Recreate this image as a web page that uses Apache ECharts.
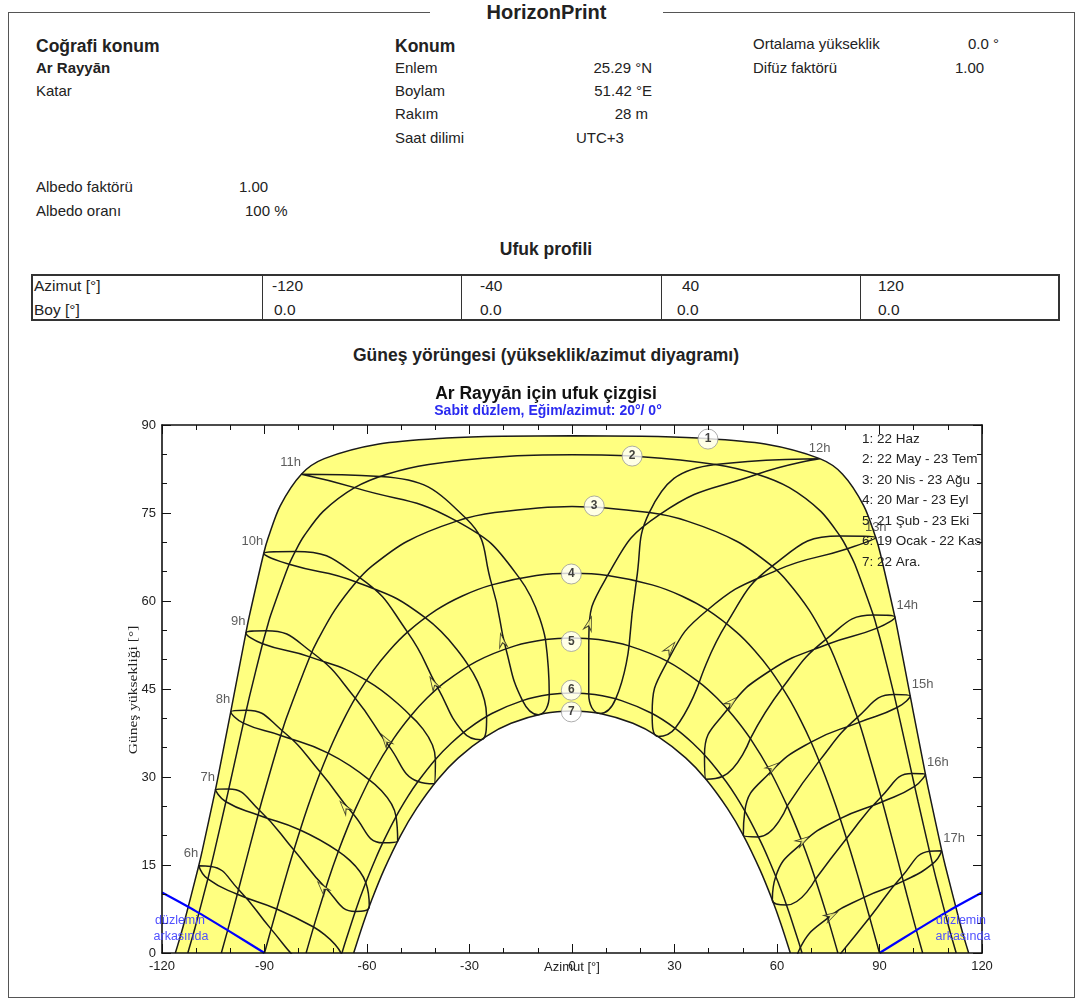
<!DOCTYPE html>
<html>
<head>
<meta charset="utf-8">
<title>HorizonPrint</title>
<script src="https://cdn.jsdelivr.net/npm/echarts@6/dist/echarts.min.js"></script>
<style>
  body { margin: 0; background: #fff; }
  #page { position: relative; width: 1083px; height: 1001px; overflow: hidden;
          font-family: 'Liberation Sans', Arial, sans-serif; color: #222; }
  .t { position: absolute; white-space: nowrap; font-size: 15px; line-height: 18px; }
  .h { font-weight: bold; font-size: 17.5px; line-height: 20px; }
  .b { font-weight: bold; }
  .n { font-size: 15.5px; }
  #frame { position: absolute; left: 8px; top: 12px; width: 1067px; height: 986px;
           border: 1.5px solid #555; box-sizing: border-box; }
  #tbl { position: absolute; left: 31px; top: 274px; width: 1029px; height: 47px;
         border: 2px solid #333; box-sizing: border-box; }
  .vl { position: absolute; top: 0; width: 1px; height: 100%; background: #333; }
  #chart { position: absolute; left: 0; top: 0; width: 1083px; height: 1001px; }
</style>
</head>
<body>
<div id="page">
  <div id="frame"></div>
  <div class="t b" style="left:430px;top:0px;width:233px;text-align:center;font-size:20px;line-height:24px;background:#fff">HorizonPrint</div>

  <div class="t h" style="left:36px;top:36px">Coğrafi konum</div>
  <div class="t b" style="left:36px;top:59px">Ar Rayyān</div>
  <div class="t" style="left:36px;top:82px">Katar</div>

  <div class="t h" style="left:395px;top:36px">Konum</div>
  <div class="t" style="left:395px;top:59px">Enlem</div>
  <div class="t" style="left:395px;top:82px">Boylam</div>
  <div class="t" style="left:395px;top:105px">Rakım</div>
  <div class="t" style="left:395px;top:129px">Saat dilimi</div>
  <div class="t" style="right:431px;top:59px">25.29 °N</div>
  <div class="t" style="right:431px;top:82px">51.42 °E</div>
  <div class="t" style="right:435px;top:105px">28 m</div>
  <div class="t" style="left:576px;top:129px">UTC+3</div>

  <div class="t" style="left:753px;top:35px">Ortalama yükseklik</div>
  <div class="t" style="right:84px;top:35px">0.0 °</div>
  <div class="t" style="left:753px;top:59px">Difüz faktörü</div>
  <div class="t" style="left:955px;top:59px">1.00</div>

  <div class="t" style="left:36px;top:178px">Albedo faktörü</div>
  <div class="t" style="left:239px;top:178px">1.00</div>
  <div class="t" style="left:36px;top:202px">Albedo oranı</div>
  <div class="t" style="left:245px;top:202px">100 %</div>

  <div class="t h" style="left:396px;top:239px;width:300px;text-align:center">Ufuk profili</div>

  <div id="tbl">
    <div class="vl" style="left:229px"></div>
    <div class="vl" style="left:428px"></div>
    <div class="vl" style="left:628px"></div>
    <div class="vl" style="left:827px"></div>
  </div>
  <div class="t n" style="left:34px;top:277px">Azimut [°]</div>
  <div class="t n" style="left:34px;top:301px">Boy [°]</div>
  <div class="t n" style="left:272px;top:277px">-120</div>
  <div class="t n" style="left:274px;top:301px">0.0</div>
  <div class="t n" style="left:480px;top:277px">-40</div>
  <div class="t n" style="left:480px;top:301px">0.0</div>
  <div class="t n" style="left:682px;top:277px">40</div>
  <div class="t n" style="left:677px;top:301px">0.0</div>
  <div class="t n" style="left:878px;top:277px">120</div>
  <div class="t n" style="left:878px;top:301px">0.0</div>

  <div class="t h" style="left:246px;top:345px;width:600px;text-align:center">Güneş yörüngesi (yükseklik/azimut diyagramı)</div>

  <div id="chart"></div>
</div>

<script>
// sun paths, [azimut, yükseklik] in degrees
const dateCurve1 = [[-116.1,0],[-114.9,2.3],[-113.7,4.77],[-109.25,14.87],[-108.22,17.44],[-104.35,27.85],[-103.44,30.49],[-99.88,41.11],[-99.0,43.79],[-95.45,54.54],[-94.51,57.25],[-90.24,68.09],[-88.9,70.81],[-85.4,76.23],[-79.2,81.62],[-72.5,84.26],[-56.5,86.75],[-36.8,87.78],[-20.4,88.1],[0,88.15],[20.4,88.1],[36.8,87.78],[56.5,86.75],[72.5,84.26],[79.2,81.62],[85.4,76.23],[88.9,70.81],[90.24,68.09],[94.51,57.25],[95.45,54.54],[99.0,43.79],[99.88,41.11],[103.44,30.49],[104.35,27.85],[108.22,17.44],[109.25,14.87],[113.7,4.77],[114.9,2.3],[116.1,0]];
const dateCurve2 = [[-112.45,0],[-111.29,2.32],[-110.29,4.39],[-106.59,12.62],[-105.51,15.19],[-104.64,17.33],[-101.3,25.78],[-100.29,28.4],[-99.46,30.58],[-96.18,39.18],[-95.14,41.84],[-94.26,44.05],[-90.57,52.72],[-89.3,55.38],[-88.18,57.6],[-82.79,66.25],[-80.6,68.9],[-78.44,71.07],[-72.83,75.27],[-63.63,79.32],[-54.18,81.61],[-41.97,83.27],[-20.3,84.6],[0,84.91],[20.3,84.6],[41.97,83.27],[54.18,81.61],[63.63,79.32],[72.83,75.27],[78.44,71.07],[80.6,68.9],[82.79,66.25],[88.18,57.6],[89.3,55.38],[90.57,52.72],[94.26,44.05],[95.14,41.84],[96.18,39.18],[99.46,30.58],[100.29,28.4],[101.3,25.78],[104.64,17.33],[105.51,15.19],[106.59,12.62],[110.29,4.39],[111.29,2.32],[112.45,0]];
const dateCurve3 = [[-102.63,0],[-100.33,4.84],[-97.96,10.02],[-96.59,13.07],[-91.88,23.53],[-90.45,26.6],[-85.24,37.08],[-83.54,40.16],[-76.76,50.47],[-74.32,53.45],[-69.43,58.44],[-63.17,63.24],[-58.57,65.93],[-48.33,70.14],[-33.74,73.61],[-22.61,75.07],[0,76.11],[22.61,75.07],[33.74,73.61],[48.33,70.14],[58.57,65.93],[63.17,63.24],[69.43,58.44],[74.32,53.45],[76.76,50.47],[83.54,40.16],[85.24,37.08],[90.45,26.6],[91.88,23.53],[96.59,13.07],[97.96,10.02],[100.33,4.84],[102.63,0]];
const dateCurve4 = [[-90,0],[-88.07,4.07],[-85.47,9.48],[-83.47,13.53],[-81.4,17.57],[-78.48,22.91],[-76.15,26.88],[-73.64,30.81],[-69.96,35.96],[-66.87,39.74],[-63.43,43.44],[-58.14,48.17],[-53.5,51.54],[-48.15,54.7],[-39.66,58.47],[-32.1,60.86],[-23.45,62.75],[-10.44,64.35],[0,64.71],[10.44,64.35],[23.45,62.75],[32.1,60.86],[39.66,58.47],[48.15,54.7],[53.5,51.54],[58.14,48.17],[63.43,43.44],[66.87,39.74],[69.96,35.96],[73.64,30.81],[76.15,26.88],[78.48,22.91],[81.4,17.57],[83.47,13.53],[85.47,9.48],[88.07,4.07],[90,0]];
const dateCurve5 = [[-77.82,0],[-74.85,5.94],[-71.24,12.57],[-68.38,17.33],[-65.79,21.24],[-62.99,25.07],[-58.13,30.85],[-52.21,36.54],[-47.21,40.41],[-42.5,43.41],[-37.25,46.13],[-27.93,49.71],[-16.7,52.35],[-7.76,53.43],[0,53.71],[7.76,53.43],[16.7,52.35],[27.93,49.71],[37.25,46.13],[42.5,43.41],[47.21,40.41],[52.21,36.54],[58.13,30.85],[62.99,25.07],[65.79,21.24],[68.38,17.33],[71.24,12.57],[74.85,5.94],[77.82,0]];
const dateCurve6 = [[-67.32,0],[-66.84,0.94],[-63.43,7.09],[-60.36,12.0],[-57.58,15.95],[-55.4,18.78],[-51.5,23.25],[-47.93,26.77],[-45.08,29.23],[-39.98,32.99],[-35.3,35.8],[-30.19,38.3],[-23.46,40.82],[-14.48,43.02],[-6.66,44.05],[0,44.31],[6.66,44.05],[14.48,43.02],[23.46,40.82],[30.19,38.3],[35.3,35.8],[39.98,32.99],[45.08,29.23],[47.93,26.77],[51.5,23.25],[55.4,18.78],[57.58,15.95],[60.36,12.0],[63.43,7.09],[66.84,0.94],[67.32,0]];
const dateCurve7 = [[-63.9,0],[-61.15,4.96],[-58.63,9.03],[-55.03,14.17],[-50.14,20.06],[-45.53,24.62],[-39.21,29.63],[-33.27,33.27],[-25.21,36.89],[-17.83,39.15],[-8.25,40.83],[0,41.27],[8.25,40.83],[17.83,39.15],[25.21,36.89],[33.27,33.27],[39.21,29.63],[45.53,24.62],[50.14,20.06],[55.03,14.17],[58.63,9.03],[61.15,4.96],[63.9,0]];

// hour loops: Eki, Kas, Ara, Ocak, Şub, Mar, Nis, May, Haz, Tem, Ağu, Eyl, Eki
const hour06 = [[-75.63,4.43],[-67.41,-0.18],[-65.97,-4.11],[-69.95,-5.36],[-78.79,-2.04],[-88.07,4.07],[-97.6,10.83],[-105.7,14.75],[-109.25,14.87],[-106.59,12.62],[-97.96,10.02],[-86.43,7.5],[-75.63,4.43]];
const hour07 = [[-68.38,17.33],[-60.36,12.0],[-59.33,7.94],[-63.43,7.09],[-72.08,11.09],[-81.4,17.57],[-91.5,24.34],[-100.46,27.96],[-104.35,27.85],[-101.3,25.78],[-91.88,23.53],[-79.58,20.96],[-68.38,17.33]];
const hour08 = [[-59.34,29.51],[-51.5,23.25],[-51.02,19.09],[-55.4,18.78],[-64.05,23.68],[-73.64,30.81],[-84.8,37.89],[-95.32,41.39],[-99.88,41.11],[-96.18,39.18],[-85.24,37.08],[-71.36,34.08],[-59.34,29.51]];
const hour09 = [[-47.21,40.41],[-39.98,32.99],[-40.34,28.83],[-45.08,29.23],[-53.63,35.3],[-63.43,43.44],[-76.14,51.26],[-89.52,54.93],[-95.45,54.54],[-90.57,52.72],[-76.76,50.47],[-60.18,46.47],[-47.21,40.41]];
const hour10 = [[-30.26,48.95],[-24.99,40.32],[-26.66,36.34],[-31.89,37.67],[-39.25,45.16],[-48.15,54.7],[-62.03,63.96],[-81.0,68.43],[-90.24,68.09],[-82.79,66.25],[-63.17,63.24],[-42.97,57.15],[-30.26,48.95]];
const hour11 = [[-7.76,53.43],[-6.66,44.05],[-9.93,40.63],[-14.48,43.02],[-19.35,51.87],[-23.45,62.75],[-30.98,74.05],[-56.1,81.24],[-79.2,81.62],[-63.63,79.32],[-33.74,73.61],[-15.37,63.9],[-7.76,53.43]];
const hour12 = [[16.7,52.35],[12.79,43.31],[8.25,40.83],[4.9,44.17],[4.92,53.6],[10.44,64.35],[25.74,74.76],[54.18,81.61],[72.5,84.26],[41.97,83.27],[22.61,75.07],[18.85,63.47],[16.7,52.35]];
const hour13 = [[37.25,46.13],[30.19,38.3],[25.21,36.89],[23.46,40.82],[27.93,49.71],[39.66,58.47],[59.87,65.23],[80.6,68.9],[88.9,70.81],[78.44,71.07],[58.57,65.93],[45.23,56.14],[37.25,46.13]];
const hour14 = [[52.21,36.54],[44.01,30.08],[39.21,29.63],[38.78,33.76],[45.54,41.54],[58.14,48.17],[74.99,52.66],[89.3,55.38],[94.51,57.25],[88.18,57.6],[74.32,53.45],[61.59,45.2],[52.21,36.54]];
const hour15 = [[62.99,25.07],[54.58,19.78],[50.14,20.06],[50.58,24.2],[58.13,30.85],[69.96,35.96],[84.01,39.32],[95.14,41.84],[99.0,43.79],[94.26,44.05],[83.54,40.16],[72.34,32.71],[62.99,25.07]];
const hour16 = [[71.24,12.57],[62.78,8.18],[58.63,9.03],[59.64,13.06],[67.45,18.78],[78.48,22.91],[90.83,25.79],[100.29,28.4],[103.44,30.49],[99.46,30.58],[90.45,26.6],[80.35,19.53],[71.24,12.57]];
const hour17 = [[78.06,-0.5],[69.41,-4.22],[65.41,-2.96],[66.84,0.94],[74.85,5.94],[85.47,9.48],[96.95,12.26],[105.51,15.19],[108.22,17.44],[104.64,17.33],[96.59,13.07],[87.13,6.06],[78.06,-0.5]];
const hourNames = ['6h','7h','8h','9h','10h','11h','12h','13h','14h','15h','16h','17h'];
const hourLoops = [hour06, hour07, hour08, hour09, hour10, hour11, hour12, hour13, hour14, hour15, hour16, hour17];
const JUN = 8, FEB = 4, MAR = 5;

// direction arrows (7h..17h)
const arrowPts = [[-73.1,11.2],[-66.6,24.9],[-54.6,36.3],[-40.6,46.0],[-20.5,53.3],[5.1,56.2],[28.8,52.0],[46.8,42.8],[58.9,31.7],[67.7,19.2],[76.0,6.4]];

// plane limit ("düzlemin arkasında")
const planeLeft = [[-120,10.3],[-110,7.1],[-100,3.6],[-90,0]];
const planeRight = [[90,0],[100,3.6],[110,7.1],[120,10.3]];

const curveLabelPts = [[39.8,87.6],[17.6,84.7],[6.5,76.2],[-0.2,64.6],[-0.2,53.1],[-0.2,44.8],[-0.2,41.1]];
const legendLines = ['1: 22 Haz','2: 22 May - 23 Tem','3: 20 Nis - 23 Ağu','4: 20 Mar - 23 Eyl','5: 21 Şub - 23 Eki','6: 19 Ocak - 22 Kas','7: 22 Ara.'];

const FONT = "'Liberation Sans', Arial, sans-serif";
const ink = '#1a1a1a';
const yellow = '#ffff80';
const lineStyle = { color: ink, width: 1.5 };

const chart = echarts.init(document.getElementById('chart'));

function axisCommon(showLabel) {
  return {
    type: 'value',
    axisLine: { show: true, onZero: false, lineStyle: { color: '#111', width: 1.6 } },
    axisTick: { show: true, inside: true, length: 9, lineStyle: { color: '#111', width: 1 } },
    minorTick: { show: true, splitNumber: 3, length: 5, lineStyle: { color: '#111', width: 1 } },
    splitLine: { show: false },
    minorSplitLine: { show: false },
    axisLabel: { show: showLabel, color: '#222', fontSize: 13, fontFamily: FONT },
    z: 10
  };
}

function hourLabel(i) {
  const h = i + 6;
  if (h < 12) return { show: true, position: 'left', distance: 0, offset: [0, -12] };
  if (h < 14) return { show: true, position: 'top', distance: 2, offset: [0, -1] };
  return { show: true, position: 'right', distance: 0, offset: [1, -12] };
}

const series = [
  { type: 'line', data: dateCurve1, smooth: 0.3, symbol: 'none', lineStyle,
    areaStyle: { color: yellow, opacity: 1 }, z: 1 },
  { type: 'line', data: dateCurve7, smooth: 0.3, symbol: 'none', lineStyle,
    areaStyle: { color: '#ffffff', opacity: 1 }, z: 2 }
];
[dateCurve2, dateCurve3, dateCurve4, dateCurve5, dateCurve6].forEach(d => {
  series.push({ type: 'line', data: d, smooth: 0.3, symbol: 'none', lineStyle, z: 3 });
});
hourLoops.forEach(d => {
  series.push({ type: 'line', data: d, smooth: 0.5, symbol: 'none', lineStyle, z: 3 });
});
[planeLeft, planeRight].forEach(d => {
  series.push({ type: 'line', data: d, smooth: 0.3, symbol: 'none',
    lineStyle: { color: '#0000ff', width: 2.2 }, z: 4 });
});
series.push({
  id: 'arrows', type: 'scatter', data: arrowPts,
  symbol: 'path://M5,0 L10,16 L5,11 L0,16 Z', symbolSize: [8, 14],
  itemStyle: { color: yellow, borderColor: ink, borderWidth: 1 }, z: 5
});
series.push({
  type: 'scatter', data: curveLabelPts.map((p, i) => ({ value: p, name: String(i + 1) })),
  symbol: 'circle', symbolSize: 20,
  itemStyle: { color: '#fff', borderColor: '#9a9a9a', borderWidth: 1 },
  label: { show: true, position: 'inside', formatter: '{b}', fontWeight: 'bold',
    fontSize: 12, color: '#111', fontFamily: FONT },
  z: 6
});
series.push({
  type: 'scatter', symbolSize: 1, itemStyle: { color: 'rgba(0,0,0,0)' },
  data: hourLoops.map((l, i) => ({ value: l[JUN], name: hourNames[i], label: hourLabel(i) })),
  label: { formatter: '{b}', fontSize: 13, color: '#333', fontFamily: FONT },
  z: 6
});

const graphic = [
  { type: 'text', x: 546, y: 394, style: { text: 'Ar Rayyān için ufuk çizgisi',
    font: "bold 17.5px 'Liberation Sans', Arial", fill: '#111', align: 'center', verticalAlign: 'middle' } },
  { type: 'text', x: 548, y: 411, style: { text: 'Sabit düzlem, Eğim/azimut: 20°/ 0°',
    font: "bold 14px 'Liberation Sans', Arial", fill: '#2a2af0', align: 'center', verticalAlign: 'middle' } },
  { type: 'text', x: 572, y: 967, z: 20, style: { text: 'Azimut [°]',
    font: "13px 'Liberation Sans', Arial", fill: '#222', align: 'center', verticalAlign: 'middle' } },
  { type: 'text', x: 134, y: 690, rotation: Math.PI / 2, scaleX: 1.35, style: { text: 'Güneş yüksekliği [°]',
    font: "11.5px 'Liberation Serif', 'DejaVu Serif', serif", fill: '#222', align: 'center', verticalAlign: 'middle' } }
];
legendLines.forEach((s, i) => {
  graphic.push({ type: 'text', x: 862, y: 439 + i * 20.5, z: 20,
    style: { text: s, font: "13.5px 'Liberation Sans', Arial", fill: '#222', verticalAlign: 'middle' } });
});
graphic.push({ type: 'rect', shape: { x: 983, y: 428, width: 88, height: 150 },
  style: { fill: '#fff' }, z: 21 });
[[180, 'düzlemin', 921], [181, 'arkasında', 937], [961, 'düzlemin', 921], [963, 'arkasında', 937]].forEach(t => {
  graphic.push({ type: 'text', x: t[0], y: t[2], z: 20,
    style: { text: t[1], font: "12.5px 'Liberation Sans', Arial", fill: '#5050ff', align: 'center', verticalAlign: 'middle' } });
});

const option = {
  animation: false,
  backgroundColor: 'transparent',
  textStyle: { fontFamily: FONT },
  grid: { left: 162, right: 101, top: 425, bottom: 48, show: false, outerBoundsMode: 'none' },
  xAxis: [
    Object.assign(axisCommon(true), { min: -120, max: 120, interval: 30, position: 'bottom',
      axisLabel: { show: true, color: '#222', fontSize: 13, fontFamily: FONT, margin: 7 } }),
    Object.assign(axisCommon(false), { min: -120, max: 120, interval: 30, position: 'top' })
  ],
  yAxis: [
    Object.assign(axisCommon(true), { min: 0, max: 90, interval: 15, position: 'left',
      axisLabel: { show: true, color: '#222', fontSize: 13, fontFamily: FONT, margin: 6 } }),
    Object.assign(axisCommon(false), { min: 0, max: 90, interval: 15, position: 'right' })
  ],
  graphic,
  series
};
chart.setOption(option);

// point each arrow along the Şub -> Mar branch of its hour loop
const rot = arrowPts.map((p, i) => {
  const loop = hourLoops[i + 1];
  const a = chart.convertToPixel({ xAxisIndex: 0, yAxisIndex: 0 }, loop[FEB]);
  const b = chart.convertToPixel({ xAxisIndex: 0, yAxisIndex: 0 }, loop[MAR]);
  return Math.atan2(-(b[0] - a[0]), -(b[1] - a[1])) * 180 / Math.PI;
});
chart.setOption({ series: [{ id: 'arrows', data: arrowPts.map((p, i) => ({ value: p, symbolRotate: rot[i] })) }] });
</script>
</body>
</html>
